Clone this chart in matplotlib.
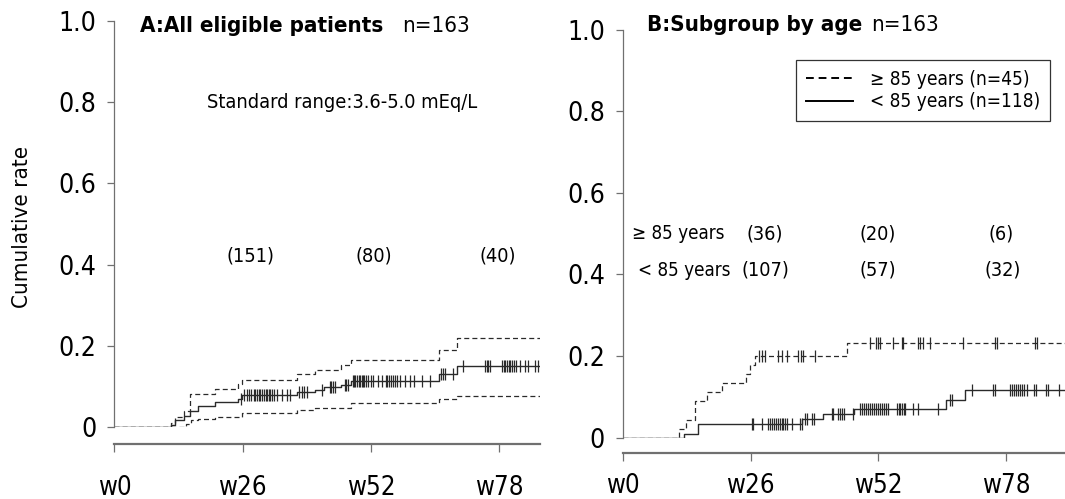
import numpy as np
import matplotlib
matplotlib.use("Agg")
import matplotlib.pyplot as plt
from matplotlib.lines import Line2D

plt.rcParams['font.family'] = ['DejaVu Sans']
plt.rcParams['font.stretch'] = 'condensed'

# Fin del seguimiento (semanas)
finSeg = 92

# Panel A: todos los pacientes (curva y IC)
tA = [0, 11.4, 12.3, 14.0, 15.3, 17.0, 20.4, 25.1, 25.8, 37.0, 40.7, 42.4, 45.9, 48.0, 65.9, 69.4]
vA = [0, 0.006, 0.018, 0.027, 0.040, 0.052, 0.062, 0.068, 0.080, 0.086, 0.092, 0.098, 0.104, 0.114, 0.130, 0.150]
tASup = [0, 11.4, 12.3, 14.0, 15.3, 20.4, 25.1, 25.8, 37.0, 40.7, 45.9, 48.0, 65.9, 69.4]
vASup = [0, 0.010, 0.025, 0.040, 0.081, 0.094, 0.106, 0.116, 0.131, 0.140, 0.153, 0.165, 0.190, 0.218]
tAInf = [0, 14.5, 15.5, 17.0, 20.4, 25.8, 37.0, 40.7, 48.0, 65.9, 69.4]
vAInf = [0, 0.007, 0.018, 0.020, 0.025, 0.035, 0.042, 0.048, 0.060, 0.068, 0.077]
censA = [25.7, 26.2, 26.8, 27.3, 27.7, 28.2, 28.6, 29.0, 29.3, 29.6, 30.0, 30.4, 30.7,
         31.0, 31.3, 31.6, 32.0, 32.4, 33.0, 34.0, 34.9, 35.6, 37.5, 38.0, 38.5, 39.0,
         42.0, 43.7, 44.0, 44.4, 44.7, 46.7, 47.0, 47.3, 48.3, 48.6, 48.8, 49.2, 49.5,
         49.8, 50.2, 50.4, 50.6, 51.0, 51.5, 52.0, 52.4, 53.5, 54.3, 55.0, 55.3, 55.6,
         56.0, 56.4, 56.8, 57.3, 58.0, 59.0, 60.0, 60.7, 62.3, 64.0, 66.3, 66.6, 67.0,
         68.7, 70.7, 75.2, 75.5, 75.8, 76.2, 78.6, 79.0, 79.3, 79.6, 80.0, 80.3, 80.6,
         81.0, 81.5, 82.3, 83.3, 83.9, 85.3, 85.9]

# Panel B: subgrupos por edad
tMay = [0, 11.5, 12.8, 14.7, 17.0, 20.1, 25.0, 25.9, 26.9, 45.7]
vMay = [0, 0.022, 0.044, 0.089, 0.111, 0.133, 0.156, 0.178, 0.200, 0.232]
censMay = [27.6, 28.2, 28.9, 31.6, 32.4, 33.3, 35.6, 36.2, 36.7, 39.1, 50.3, 51.5, 51.9,
           52.3, 55.0, 56.8, 57.1, 60.1, 60.5, 61.0, 62.5, 69.2, 75.7, 76.1, 83.8, 84.2]
tMen = [0, 12.5, 15.3, 36.5, 40.8, 47.0, 65.8, 69.6]
vMen = [0, 0.0085, 0.034, 0.046, 0.058, 0.071, 0.093, 0.117]
censMen = [26.2, 26.5, 28.2, 29.5, 29.9, 30.3, 30.7, 31.1, 31.5, 31.9, 32.3, 32.6, 33.0,
           33.3, 34.4, 36.0, 36.4, 37.1, 37.4, 38.4, 38.8, 42.5, 42.8, 43.8, 44.2, 44.6,
           44.9, 46.9, 48.3, 48.7, 49.1, 49.5, 49.9, 50.3, 50.7, 51.1, 51.5, 51.9, 52.3,
           52.7, 53.1, 53.5, 54.0, 55.7, 56.1, 56.5, 56.9, 57.2, 57.4, 59.1, 60.1, 64.2,
           66.6, 66.9, 71.0, 75.4, 75.8, 78.8, 79.2, 79.6, 80.0, 80.4, 80.8, 81.3, 81.7,
           82.2, 83.6, 84.0, 86.2, 86.5, 88.7]

# Pacientes en riesgo
riesgoA = ['(151)', '(80)', '(40)']
riesgoMay = ['(36)', '(20)', '(6)']
riesgoMen = ['(107)', '(57)', '(32)']
semTicks = [0, 26, 52, 78]
semLabels = ['w0', 'w26', 'w52', 'w78']
yTicks = [0, 0.2, 0.4, 0.6, 0.8, 1.0]
yLabels = ['0', '0.2', '0.4', '0.6', '0.8', '1.0']

grisEje = '#707070'
colLinea = '#2a2a2a'
tamTxt = 14.3


def escalon(ax, t, v, **kw):
    ax.step(np.append(t, finSeg), np.append(v, v[-1]), where='post', **kw)


def censuras(ax, t, v, c):
    idx = np.searchsorted(t, c, side='right') - 1
    ax.plot(c, np.array(v)[idx], linestyle='none', marker='|', markersize=8,
            markeredgewidth=0.9, color=colLinea)


def ejes(ax, xmax, salida, padX):
    ax.set_xlim(0, xmax)
    ax.set_ylim(0, 1.0)
    for s in ['top', 'right']:
        ax.spines[s].set_visible(False)
    ax.spines['left'].set_bounds(0, 1.0)
    ax.spines['left'].set_color(grisEje)
    ax.spines['left'].set_linewidth(0.9)
    ax.spines['bottom'].set_position(('outward', salida))
    ax.spines['bottom'].set_bounds(0, xmax)
    ax.spines['bottom'].set_color(grisEje)
    ax.spines['bottom'].set_linewidth(1.6)
    ax.set_xticks(semTicks)
    ax.set_xticklabels(semLabels)
    ax.set_yticks(yTicks)
    ax.set_yticklabels(yLabels)
    ax.tick_params(axis='y', length=5, width=0.9, color=grisEje, labelsize=19, pad=8)
    ax.tick_params(axis='x', length=6, width=0.9, color=grisEje, labelsize=18.5, pad=padX)


fig = plt.figure(figsize=(10.65, 4.99), dpi=100)
axA = fig.add_axes([0.1075, 0.1443, 0.3995, 0.8136])
axB = fig.add_axes([0.585, 0.1232, 0.415, 0.8176])

# Panel A
ejes(axA, 86.3, 12.5, 16)
escalon(axA, tAInf, vAInf, color=colLinea, lw=0.9, linestyle=(0, (4, 2.5)))
escalon(axA, tASup, vASup, color=colLinea, lw=0.9, linestyle=(0, (4, 2.5)))
escalon(axA, tA, vA, color=colLinea, lw=1.0)
censuras(axA, tA, vA, censA)
axA.text(5.1, 0.988, 'A:All eligible patients', fontsize=16, fontweight='bold', va='center')
axA.text(58.3, 0.988, 'n=163', fontsize=16, va='center')
axA.text(18.7, 0.80, 'Standard range:3.6-5.0 mEq/L', fontsize=tamTxt, va='center')
for x, s in zip([27.5, 52.6, 77.8], riesgoA):
    axA.text(x, 0.42, s, fontsize=tamTxt, ha='center', va='center')

# Panel B
ejes(axB, 90.0, 11.5, 8)
escalon(axB, tMay, vMay, color=colLinea, lw=0.9, linestyle=(0, (4, 2.5)))
escalon(axB, tMen, vMen, color=colLinea, lw=1.0)
censuras(axB, tMay, vMay, censMay)
censuras(axB, tMen, vMen, censMen)
axB.text(4.8, 1.011, 'B:Subgroup by age', fontsize=16, fontweight='bold', va='center')
axB.text(50.5, 1.011, 'n=163', fontsize=16, va='center')
axB.text(1.8, 0.50, '\u2265 85 years', fontsize=13.5, va='center')
axB.text(3.0, 0.41, '< 85 years', fontsize=13.5, va='center')
for x, s in zip([28.9, 51.9, 77.0], riesgoMay):
    axB.text(x, 0.50, s, fontsize=tamTxt, ha='center', va='center')
for x, s in zip([28.9, 51.9, 77.4], riesgoMen):
    axB.text(x, 0.41, s, fontsize=tamTxt, ha='center', va='center')

hLeg = [Line2D([], [], color='black', lw=1.4, linestyle=(0, (4, 2.5))),
        Line2D([], [], color='black', lw=1.4)]
leg = axB.legend(hLeg, ['\u2265 85 years (n=45)', '< 85 years (n=118)'],
                 loc='upper right', bbox_to_anchor=(0.966, 0.925), fontsize=13.7,
                 frameon=True, fancybox=False, handlelength=2.5, handletextpad=0.9,
                 borderpad=0.5, labelspacing=0.2, borderaxespad=0)
leg.get_frame().set_edgecolor('black')
leg.get_frame().set_linewidth(0.9)

fig.text(0.021, 0.545, 'Cumulative rate', rotation=90, fontsize=16, ha='center', va='center')

fig.savefig('out.png', dpi=100)
